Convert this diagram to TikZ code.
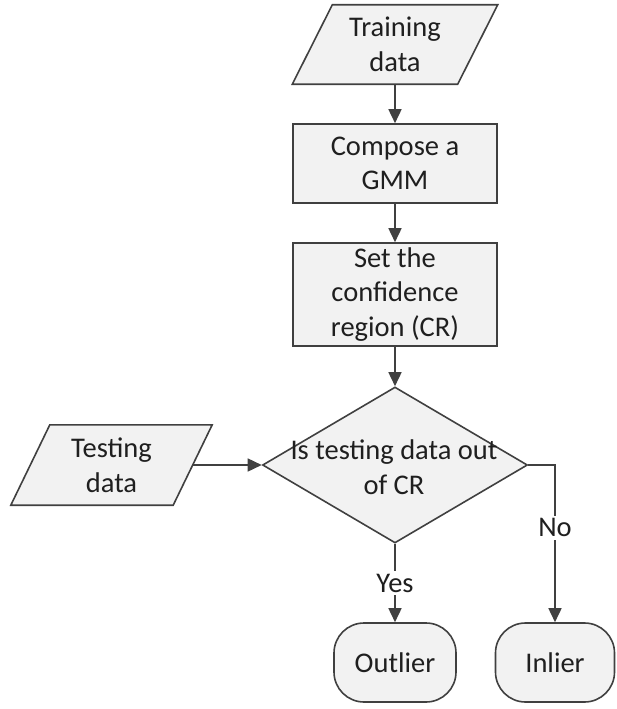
\documentclass[tikz,border=0pt]{standalone}
\usepackage{fontspec}
\setmainfont{Carlito}
\usetikzlibrary{shapes.geometric,arrows.meta}
\definecolor{linec}{HTML}{404040}
\definecolor{fillc}{HTML}{F2F2F2}
\definecolor{textc}{HTML}{1F1F1F}
\tikzset{
  txt/.style={font=\fontsize{28.5}{34.5}\selectfont, text=textc, align=center, inner sep=0pt},
  shp/.style={draw=linec, line width=1.6pt, fill=fillc},
  procbox/.style={shp, txt, rectangle},
  ghost/.style={txt, rectangle},
  termbox/.style={shp, txt, rectangle, rounded corners=30pt},
  conn/.style={draw=linec, line width=1.6pt, -{Triangle[length=14pt,width=13pt]}},
  lab/.style={txt, fill=white, inner sep=3pt}
}
\begin{document}
\begin{tikzpicture}[x=1pt,y=-1pt]
\useasboundingbox (0,0) rectangle (616,709);
% Training data (parallelogram)
\node[ghost, minimum width=165pt, minimum height=79pt] (train) at (395,44.5) {};
\draw[shp] ([xshift=-20pt]train.south west) -- ([xshift=20pt]train.north west) -- ([xshift=20pt]train.north east) -- ([xshift=-20pt]train.south east) -- cycle;
\node[txt] at (train) {Training\\data};
% Compose a GMM
\node[procbox, minimum width=204pt, minimum height=79pt] (gmm) at (395,163.5) {Compose a\\GMM};
% Set the CR
\node[procbox, minimum width=204pt, minimum height=103pt] (cr) at (395,294.5) {Set the\\confidence\\region (CR)};
% Decision diamond
\node[shp, diamond, minimum width=265pt, minimum height=156pt, inner sep=0pt, aspect=1.7] (dec) at (395,465) {};
\node[txt] at (394,467) {Is testing data out\\of CR};
% Testing data (parallelogram)
\node[ghost, minimum width=162pt, minimum height=80pt] (test) at (111.5,465) {};
\draw[shp] ([xshift=-19.5pt]test.south west) -- ([xshift=19.5pt]test.north west) -- ([xshift=19.5pt]test.north east) -- ([xshift=-19.5pt]test.south east) -- cycle;
\node[txt] at (test) {Testing\\data};
% Terminals
\node[termbox, minimum width=122pt, minimum height=79pt] (out) at (395,662.5) {Outlier};
\node[termbox, minimum width=119pt, minimum height=79pt] (in) at (555,662.5) {Inlier};
\coordinate (nocorner) at (555,465);
% Connectors
\draw[conn] (train.south) -- (gmm.north);
\draw[conn] (gmm.south) -- (cr.north);
\draw[conn] (cr.south) -- (dec.north);
\draw[conn] (test.east) -- (dec.west);
\draw[conn] (dec.south) -- node[lab, pos=0.5] (yes) {Yes} (out.north);
\draw[conn] (dec.east) -- (nocorner) -- node[lab, pos=0.4] (no) {No} (in.north);
\end{tikzpicture}
\end{document}
